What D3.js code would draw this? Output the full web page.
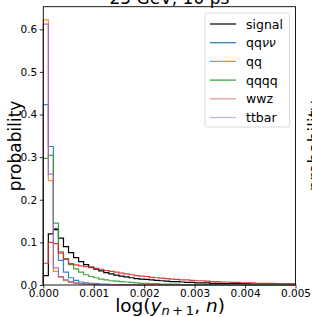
<!DOCTYPE html>
<html>
<head>
<meta charset="utf-8">
<script src="https://cdn.jsdelivr.net/npm/d3@7"></script>
<style>
  html, body { margin: 0; padding: 0; background: #ffffff; }
  svg { display: block; font-family: "DejaVu Sans", sans-serif; }
</style>
</head>
<body>
<svg id="chart" width="312" height="317"></svg>
<script>
// histogram bins: 50 bins of width 0.0001 from 0 to 0.005
const binStart = 0, binWidth = 0.0001, nBins = 50;

const seriesNames = ["signal", "qqνν", "qq", "qqqq", "wwz", "ttbar"];
const seriesColors = ["#000000", "#1f77b4", "#ff7f0e", "#2ca02c", "#d62728", "#9467bd"];

const signal = [0.022, 0.12, 0.13, 0.11, 0.09, 0.076, 0.064, 0.055, 0.048, 0.042,
  0.037, 0.033, 0.029, 0.026, 0.023, 0.021, 0.019, 0.017, 0.015, 0.014,
  0.013, 0.012, 0.011, 0.01, 0.009, 0.008, 0.008, 0.007, 0.006, 0.006,
  0.005, 0.005, 0.005, 0.004, 0.004, 0.004, 0.003, 0.003, 0.003, 0.003,
  0.003, 0.002, 0.002, 0.002, 0.002, 0.002, 0.002, 0.001, 0.001, 0.001];
const qqnunu = [0.423, 0.325, 0.133, 0.058, 0.03, 0.017, 0.011, 0.007, 0.005, 0.004,
  0.003, 0.002, 0.002, 0.001, 0.001, 0.001, 0.001, 0.001, 0, 0,
  0, 0, 0, 0, 0, 0, 0, 0, 0, 0,
  0, 0, 0, 0, 0, 0, 0, 0, 0, 0,
  0, 0, 0, 0, 0, 0, 0, 0, 0, 0];
const qq = [0.622, 0.245, 0.032, 0.018, 0.01, 0.006, 0.004, 0.003, 0.002, 0.002,
  0.001, 0.001, 0.001, 0.001, 0.001, 0, 0, 0, 0, 0,
  0, 0, 0, 0, 0, 0, 0, 0, 0, 0,
  0, 0, 0, 0, 0, 0, 0, 0, 0, 0,
  0, 0, 0, 0, 0, 0, 0, 0, 0, 0];
const qqqq = [0.297, 0.304, 0.145, 0.078, 0.062, 0.048, 0.038, 0.03, 0.024, 0.02,
  0.017, 0.014, 0.012, 0.01, 0.009, 0.008, 0.007, 0.006, 0.005, 0.004,
  0.004, 0.003, 0.003, 0.002, 0.002, 0.002, 0.002, 0.001, 0.001, 0.001,
  0.001, 0.001, 0.001, 0.001, 0.001, 0.001, 0, 0, 0, 0,
  0, 0, 0, 0, 0, 0, 0, 0, 0, 0];
const wwz = [0.051, 0.1, 0.097, 0.075, 0.06, 0.05, 0.047, 0.045, 0.043, 0.041,
  0.039, 0.037, 0.034, 0.032, 0.03, 0.028, 0.026, 0.024, 0.022, 0.021,
  0.02, 0.018, 0.017, 0.016, 0.015, 0.014, 0.013, 0.012, 0.012, 0.011,
  0.01, 0.01, 0.009, 0.008, 0.008, 0.007, 0.007, 0.006, 0.006, 0.005,
  0.005, 0.005, 0.004, 0.004, 0.004, 0.004, 0.003, 0.003, 0.003, 0.003];
const ttbar = [0.612, 0.26, 0.04, 0.02, 0.012, 0.008, 0.005, 0.003, 0.002, 0.002,
  0.001, 0.001, 0.001, 0.001, 0, 0, 0, 0, 0, 0,
  0, 0, 0, 0, 0, 0, 0, 0, 0, 0,
  0, 0, 0, 0, 0, 0, 0, 0, 0, 0,
  0, 0, 0, 0, 0, 0, 0, 0, 0, 0];

const seriesValues = [signal, qqnunu, qq, qqqq, wwz, ttbar];
const legendAlpha = [1, 1, 1, 1, 0.5, 0.5];

const xTicks = [0, 0.001, 0.002, 0.003, 0.004, 0.005];
const yTicks = [0, 0.1, 0.2, 0.3, 0.4, 0.5, 0.6];

const svg = d3.select("#chart");
const plot = { left: 43.3, right: 295.5, top: 6.7, bottom: 285 };

const x = d3.scaleLinear().domain([0, 0.005]).range([plot.left, plot.right]);
const y = d3.scaleLinear().domain([0, 0.653]).range([plot.bottom, plot.top]);

svg.append("rect")
  .attr("x", plot.left).attr("y", plot.top)
  .attr("width", plot.right - plot.left).attr("height", plot.bottom - plot.top)
  .attr("fill", "#fff");

// step histograms
const line = d3.line().x(d => x(d[0])).y(d => y(d[1]));
const g = svg.append("g");
seriesValues.forEach((vals, i) => {
  const pts = [[binStart, 0]];
  vals.forEach((v, k) => {
    const e0 = binStart + k * binWidth, e1 = e0 + binWidth;
    pts.push([e0, v], [e1, v]);
  });
  pts.push([binStart + nBins * binWidth, 0]);
  g.append("path")
    .attr("d", line(pts))
    .attr("fill", "none")
    .attr("stroke", seriesColors[i])
    .attr("stroke-width", 1.2)
    .attr("stroke-opacity", i === 0 ? 1 : 0.9);
});

// axes
const xAxis = d3.axisBottom(x).tickValues(xTicks).tickFormat(d3.format(".3f")).tickSizeOuter(0).tickSize(3.5).tickPadding(1);
const yAxis = d3.axisLeft(y).tickValues(yTicks).tickFormat(d3.format(".1f")).tickSizeOuter(0).tickSize(3.5).tickPadding(2.5);

const gx = svg.append("g").attr("transform", `translate(0,${plot.bottom})`).call(xAxis);
const gy = svg.append("g").attr("transform", `translate(${plot.left},0)`).call(yAxis);
[gx, gy].forEach(a => {
  a.select(".domain").remove();
  a.selectAll("text").attr("font-size", 10.5).attr("fill", "#000").attr("font-family", "DejaVu Sans");
  a.selectAll("line").attr("stroke", "#000").attr("stroke-width", 0.8);
});

// frame
svg.append("rect")
  .attr("x", plot.left).attr("y", plot.top)
  .attr("width", plot.right - plot.left).attr("height", plot.bottom - plot.top)
  .attr("fill", "none").attr("stroke", "#000").attr("stroke-width", 0.9);

// title (cut off at top)
svg.append("text")
  .attr("x", (plot.left + plot.right) / 2).attr("y", 3.5)
  .attr("text-anchor", "middle").attr("font-size", 17)
  .text("25 GeV, 10 ps");

// y label
svg.append("text")
  .attr("transform", `translate(21,146) rotate(-90)`)
  .attr("text-anchor", "middle").attr("font-size", 17)
  .text("probability");

// neighbouring panel's y label, mostly outside the frame
svg.append("text")
  .attr("transform", `translate(321,146) rotate(-90)`)
  .attr("text-anchor", "middle").attr("font-size", 17)
  .text("probability");

// x label: log(y_{n+1}, n)
const xl = svg.append("text")
  .attr("x", 170).attr("y", 312)
  .attr("text-anchor", "middle").attr("font-size", 18.5);
xl.append("tspan").text("log(");
xl.append("tspan").attr("font-style", "italic").text("y");
xl.append("tspan").attr("font-size", 13).attr("dy", 3).attr("font-style", "italic").text("n");
xl.append("tspan").attr("font-size", 13).text("\u2009+\u20091");
xl.append("tspan").attr("dy", -3).text(", ");
xl.append("tspan").attr("font-style", "italic").text("n");
xl.append("tspan").text(")");

// legend
const leg = svg.append("g");
leg.append("rect")
  .attr("x", 205).attr("y", 13).attr("width", 84.5).attr("height", 114)
  .attr("rx", 2.5).attr("fill", "#fff").attr("fill-opacity", 0.8)
  .attr("stroke", "#d0d0d0").attr("stroke-width", 0.8);
seriesNames.forEach((name, i) => {
  const cy = 24 + i * 18.7;
  leg.append("line")
    .attr("x1", 210).attr("x2", 236).attr("y1", cy).attr("y2", cy)
    .attr("stroke", seriesColors[i]).attr("stroke-width", 1.2)
    .attr("stroke-opacity", legendAlpha[i]);
  const t = leg.append("text").attr("x", 246).attr("y", cy + 4.5).attr("font-size", 12.5);
  if (name === "qqνν") {
    t.append("tspan").text("qq");
    t.append("tspan").attr("font-style", "italic").text("νν");
  } else {
    t.text(name);
  }
});
</script>
</body>
</html>
